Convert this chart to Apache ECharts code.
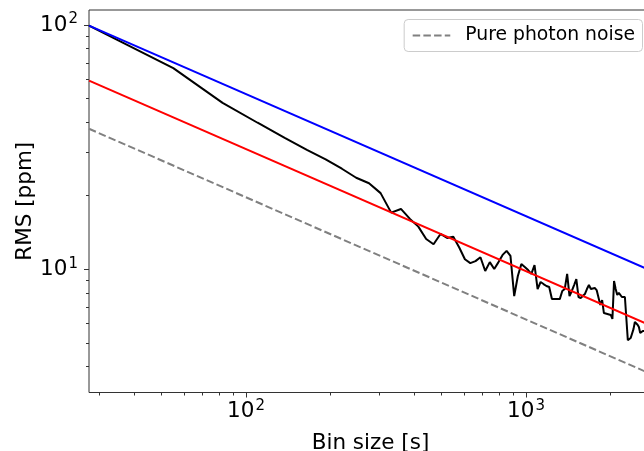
<!DOCTYPE html>
<html>
<head>
<meta charset="utf-8">
<script src="https://cdn.jsdelivr.net/npm/echarts@6/dist/echarts.min.js"></script>
<style>
  html, body { margin: 0; padding: 0; background: #ffffff; }
  #chart { width: 644px; height: 451px; }
</style>
</head>
<body>
<div id="chart"></div>
<script>
// Bin sizes in seconds (multiples of the 27.5 s cadence)
const binSize = [
  27.5, 55, 82.5, 110, 137.5, 165, 192.5, 220, 247.5, 275,
  302.5, 330, 357.5, 385, 412.5, 440, 467.5, 495, 522.5, 550,
  577.5, 605, 632.5, 660, 687.5, 715, 742.5, 770, 797.5, 825,
  852.5, 880, 907.5, 935, 962.5, 990, 1017.5, 1045, 1072.5, 1100,
  1127.5, 1155, 1182.5, 1210, 1237.5, 1265, 1292.5, 1320, 1347.5, 1375,
  1402.5, 1430, 1457.5, 1485, 1512.5, 1540, 1567.5, 1595, 1622.5, 1650,
  1677.5, 1705, 1732.5, 1760, 1787.5, 1815, 1842.5, 1870, 1897.5, 1925,
  1952.5, 1980, 2007.5, 2035, 2062.5, 2090, 2117.5, 2145, 2172.5, 2200,
  2227.5, 2255, 2282.5, 2310, 2337.5, 2365, 2392.5, 2420, 2447.5, 2475,
  2502.5, 2530, 2557.5, 2585, 2612.5, 2640, 2667.5, 2695, 2722.5, 2750
];

// Measured RMS of the binned residuals [ppm]
const rmsMeasured = [
  99.5, 66.6, 48.0, 39.8, 34.5, 30.8, 28.2, 25.8, 23.7, 22.5,
  20.5, 17.06, 17.66, 16.07, 14.95, 13.3, 12.66, 13.95, 13.43, 13.6,
  12.28, 10.99, 10.6, 10.8, 11.2, 9.84, 10.7, 10.03, 10.7, 11.45,
  11.9, 11.34, 7.77, 9.39, 10.5, 10.22, 9.93, 9.57, 10.4, 8.3,
  8.87, 8.7, 8.54, 8.46, 7.55, 7.55, 7.55, 7.55, 8.15, 8.3,
  9.57, 7.77, 8.15, 8.62, 9.12, 7.7, 7.63, 7.77, 7.92, 8.3,
  8.62, 8.3, 8.22, 8.38, 8.22, 8.07, 7.14, 7.48, 6.62, 6.68,
  6.56, 6.5, 6.5, 6.26, 8.96, 8.3, 7.85, 8.0, 8.0, 7.7,
  7.7, 7.7, 7.7, 5.13, 5.17, 5.23, 5.28, 5.69, 6.08, 6.03,
  5.93, 5.8, 5.48, 5.43, 5.59, 5.63, 5.6, 5.5, 5.7, 5.45
];

// White-noise expectations (slope -1/2), given by their end points
const whiteFromFirstBin = [[27.5, 99.5], [2818, 9.83]];
const whiteFitted       = [[27.5, 59.2], [2818, 5.85]];
const photonNoise       = [[27.5, 37.6], [2818, 3.71]];

// Axis ticks
const xMajorTicks = [100, 1000];
const xMinorTicks = [30, 40, 50, 60, 70, 80, 90, 200, 300, 400, 500, 600, 700, 800, 900, 2000];
const yMajorTicks = [10, 100];
const yMinorTicks = [4, 5, 6, 7, 8, 9, 20, 30, 40, 50, 60, 70, 80, 90];

const xRange = [27.5, 2818];
const yRange = [3.13, 115.2];

const FONT = 'DejaVu Sans';
const AXIS_COLOR = '#333333';
const LABEL_SIZE = 21.5;

function powerLabel(v) {
  const e = Math.round(Math.log10(v));
  return '{b|10}{s|' + e + '}';
}
const powerRich = {
  b: { fontFamily: FONT, fontSize: LABEL_SIZE, color: '#000', lineHeight: 26 },
  s: { fontFamily: FONT, fontSize: 15, color: '#000', lineHeight: 15, verticalAlign: 'top', padding: [0, 0, 0, 1] }
};

function majorAxis(dim, range, ticks, name, nameGap, labelMargin) {
  return {
    type: 'log', logBase: 10, min: range[0], max: range[1],
    position: dim === 'x' ? 'bottom' : 'left',
    name: name, nameLocation: 'middle', nameGap: nameGap,
    nameRotate: dim === 'x' ? 0 : 90,
    nameMoveOverlap: false,
    nameTextStyle: { fontFamily: FONT, fontSize: LABEL_SIZE, color: '#000' },
    axisLine: { show: false },
    splitLine: { show: false },
    minorTick: { show: false },
    minorSplitLine: { show: false },
    axisTick: { show: true, inside: false, length: 5, customValues: ticks,
                lineStyle: { color: AXIS_COLOR, width: 1 } },
    axisLabel: { show: true, customValues: ticks, margin: labelMargin,
                 formatter: powerLabel, rich: powerRich }
  };
}
function minorAxis(dim, range, ticks) {
  return {
    type: 'log', logBase: 10, min: range[0], max: range[1],
    position: dim === 'x' ? 'bottom' : 'left',
    axisLine: { show: false },
    splitLine: { show: false },
    axisTick: { show: true, inside: false, length: 3, customValues: ticks,
                lineStyle: { color: AXIS_COLOR, width: 1 } },
    axisLabel: { show: false }
  };
}

const chart = echarts.init(document.getElementById('chart'), null, { renderer: 'canvas' });

chart.setOption({
  animation: false,
  backgroundColor: '#ffffff',
  grid: {
    left: 89, top: 10, right: -8, bottom: 58.5,
    outerBoundsMode: 'none', containLabel: false,
    show: true, borderColor: AXIS_COLOR, borderWidth: 1, backgroundColor: 'transparent'
  },
  legend: {
    data: ['Pure photon noise'],
    right: 1.5, top: 19.5,
    padding: [5, 7.5, 5, 7.5],
    itemWidth: 37.6, itemHeight: 14,
    itemStyle: { opacity: 0 },
    backgroundColor: 'rgba(255,255,255,0.8)',
    borderColor: '#cccccc', borderWidth: 1, borderRadius: 4,
    textStyle: { fontFamily: FONT, fontSize: 18.8, color: '#000', lineHeight: 22, padding: [0, 0, 0, 10] }
  },
  xAxis: [
    majorAxis('x', xRange, xMajorTicks, 'Bin size [s]', 40, 6),
    minorAxis('x', xRange, xMinorTicks)
  ],
  yAxis: [
    majorAxis('y', yRange, yMajorTicks, 'RMS [ppm]', 53, 11),
    minorAxis('y', yRange, yMinorTicks)
  ],
  series: [
    {
      type: 'line', name: 'RMS',
      data: binSize.map((b, i) => [b, rmsMeasured[i]]),
      symbol: 'none', lineStyle: { color: '#000000', width: 2 }, z: 2
    },
    {
      type: 'line', name: 'White noise (first bin)',
      data: whiteFromFirstBin,
      symbol: 'none', lineStyle: { color: '#0000ff', width: 2 }, z: 3
    },
    {
      type: 'line', name: 'White noise (fitted)',
      data: whiteFitted,
      symbol: 'none', lineStyle: { color: '#ff0000', width: 2 }, z: 4
    },
    {
      type: 'line', name: 'Pure photon noise',
      data: photonNoise,
      symbol: 'none', itemStyle: { color: '#808080' },
      lineStyle: { color: '#808080', width: 2, type: [7.5, 3.2] }, z: 5
    }
  ]
});
</script>
</body>
</html>
